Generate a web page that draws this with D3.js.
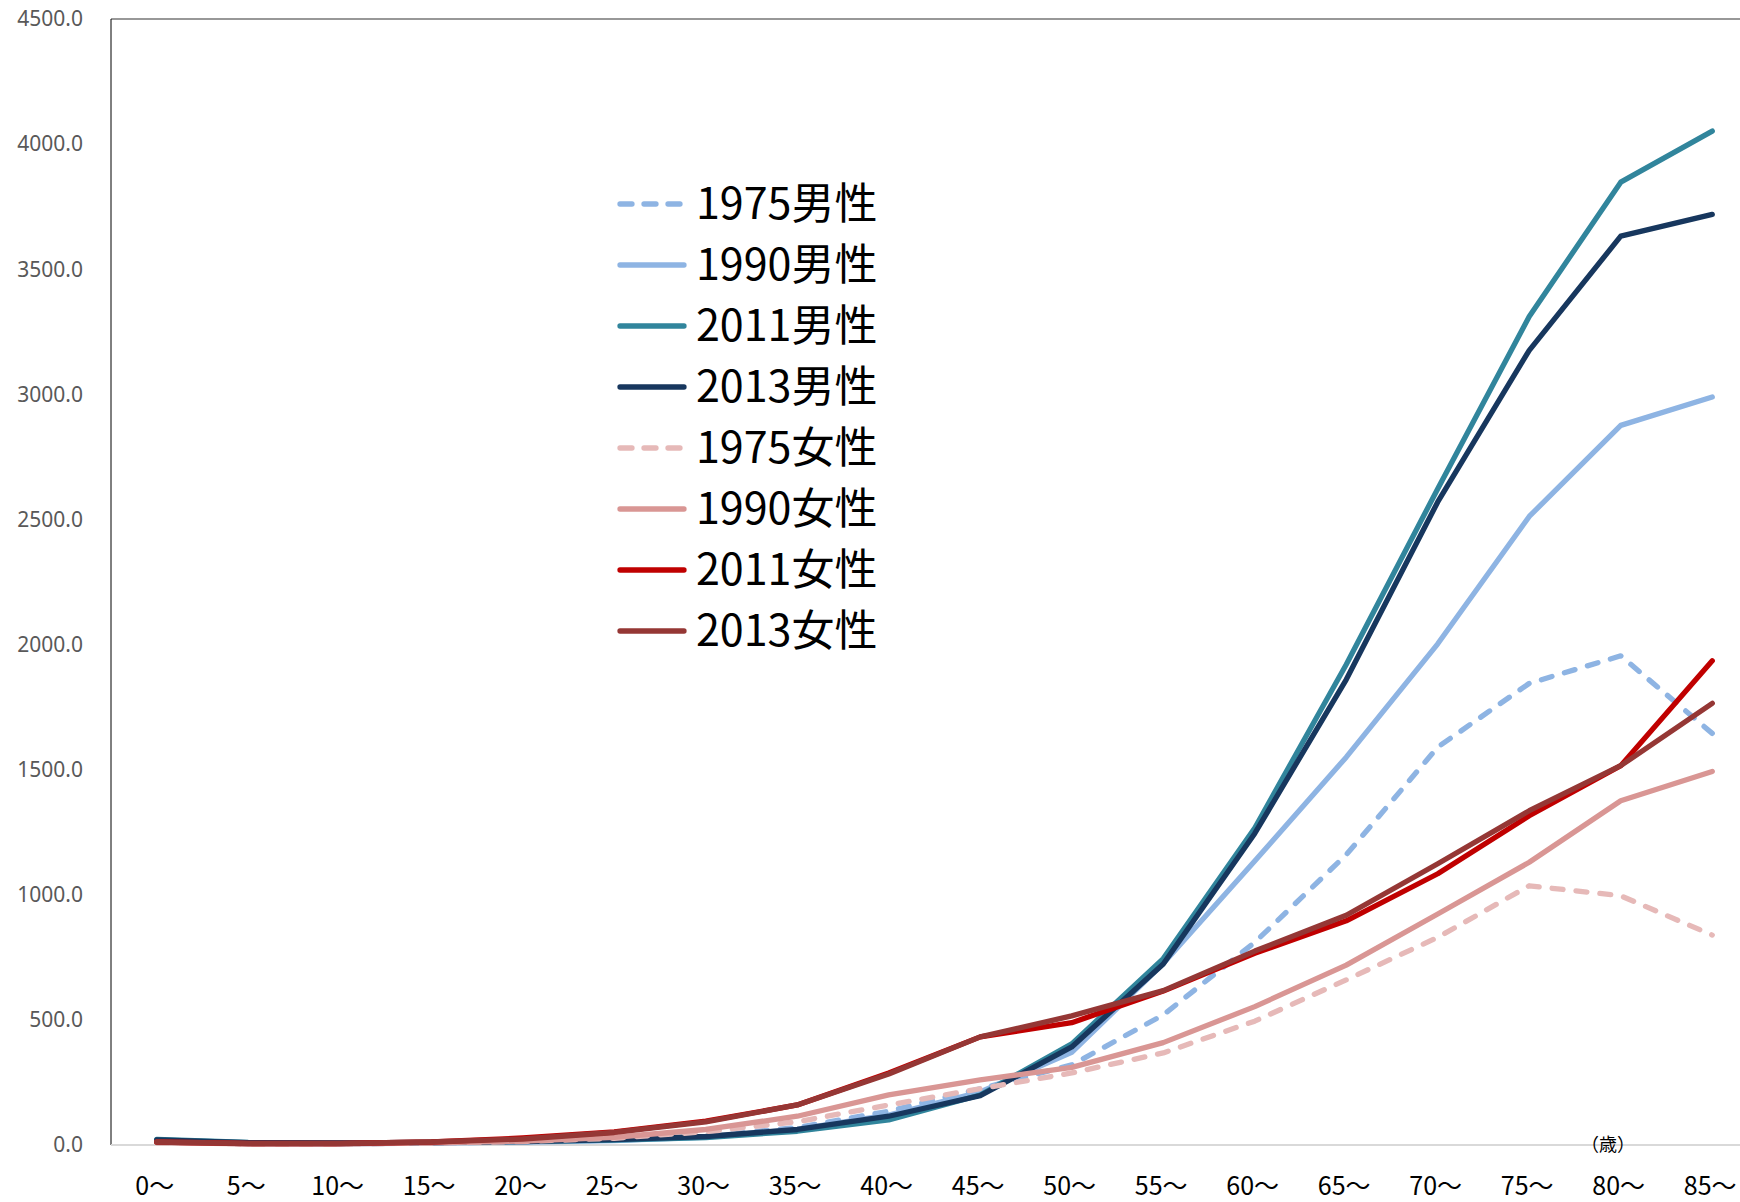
<!DOCTYPE html>
<html lang="ja">
<head>
<meta charset="utf-8">
<title>年齢階級別 罹患率</title>
<script src="https://cdn.jsdelivr.net/npm/d3@7"></script>
<style>
    body { margin: 0; background: #fff; }
    svg { display: block; }
    .y-tick { font-family: "Noto Sans", "DejaVu Sans", sans-serif; font-size: 21px; fill: #595959; }
    .x-tick { font-family: "Noto Sans CJK JP", sans-serif; font-size: 25px; fill: #000; }
    .legend text { font-family: "Noto Sans CJK JP", sans-serif; font-size: 43px; fill: #000; }
    .series { fill: none; stroke-width: 5.3; stroke-linecap: round; stroke-linejoin: round; }
</style>
</head>
<body>
<svg id="chart"></svg>
<script>
/* global d3 : false */

const ages = ["0～", "5～", "10～", "15～", "20～", "25～", "30～", "35～", "40～",
    "45～", "50～", "55～", "60～", "65～", "70～", "75～", "80～", "85～"];

const yTicks = [0, 500, 1000, 1500, 2000, 2500, 3000, 3500, 4000, 4500];

const male1975 = [12, 5, 5, 8, 12, 20, 35, 70, 135, 225, 320, 520, 810, 1160, 1590, 1845, 1955, 1645];
const male1990 = [14, 6, 5, 8, 12, 18, 32, 62, 120, 212, 370, 725, 1135, 1550, 2003, 2512, 2876, 2989];
const male2011 = [22, 10, 8, 10, 14, 20, 30, 55, 100, 200, 404, 745, 1267, 1920, 2623, 3311, 3848, 4052];
const male2013 = [20, 9, 8, 10, 14, 22, 34, 62, 115, 197, 392, 723, 1245, 1860, 2570, 3176, 3632, 3719];
const female1975 = [10, 4, 4, 8, 14, 27, 53, 93, 160, 225, 288, 368, 495, 660, 830, 1036, 996, 839];
const female1990 = [10, 5, 5, 9, 16, 31, 62, 115, 200, 260, 310, 409, 553, 719, 923, 1130, 1376, 1493];
const female2011 = [12, 6, 6, 12, 28, 52, 95, 160, 288, 432, 489, 615, 766, 896, 1084, 1316, 1516, 1935];
const female2013 = [12, 6, 6, 12, 24, 50, 92, 160, 284, 432, 516, 617, 775, 918, 1124, 1336, 1516, 1765];

const seriesNames = ["1975男性", "1990男性", "2011男性", "2013男性", "1975女性", "1990女性", "2011女性", "2013女性"];
const seriesValues = [male1975, male1990, male2011, male2013, female1975, female1990, female2011, female2013];
const seriesColors = ["#8eb4e3", "#8eb4e3", "#31859c", "#17375e", "#e6b9b8", "#d99694", "#c00000", "#953735"];
const seriesDashed = [true, false, false, false, true, false, false, false];

const width = 1740;
const height = 1202;
// plot area runs past the right edge of the picture, as in the original
const plot = { left: 111, top: 19, bottom: 1145, step: 91.5 };

const svg = d3.select("#chart")
    .attr("width", width)
    .attr("height", height);

const x = d3.scalePoint()
    .domain(ages)
    .range([plot.left, plot.left + plot.step * ages.length])
    .padding(0.5);

const y = d3.scaleLinear()
    .domain([0, 4500])
    .range([plot.bottom, plot.top]);

// frame
svg.append("line")
    .attr("x1", plot.left).attr("x2", width)
    .attr("y1", plot.top).attr("y2", plot.top)
    .attr("stroke", "#767676").attr("stroke-width", 1.5);
svg.append("line")
    .attr("x1", plot.left).attr("x2", plot.left)
    .attr("y1", plot.top).attr("y2", plot.bottom)
    .attr("stroke", "#000").attr("stroke-width", 1);

// y axis labels
svg.append("g")
    .selectAll("text")
    .data(yTicks)
    .join("text")
    .attr("class", "y-tick")
    .attr("x", 83)
    .attr("y", d => y(d))
    .attr("dy", "0.35em")
    .attr("text-anchor", "end")
    .text(d => d3.format(".1f")(d));

// x axis
svg.append("line")
    .attr("x1", plot.left).attr("x2", width)
    .attr("y1", plot.bottom).attr("y2", plot.bottom)
    .attr("stroke", "#d9d9d9").attr("stroke-width", 2);

svg.append("g")
    .selectAll("text")
    .data(ages)
    .join("text")
    .attr("class", "x-tick")
    .attr("x", d => x(d) - 2)
    .attr("y", 1195)
    .attr("text-anchor", "middle")
    .text(d => d);

svg.append("text")
    .attr("x", 1608)
    .attr("y", plot.bottom)
    .attr("dy", "0.35em")
    .attr("text-anchor", "middle")
    .style("font-family", "\"Noto Sans CJK JP\", sans-serif")
    .style("font-size", "18px")
    .text("（歳）");

// lines
const line = d3.line()
    .x((d, i) => x(ages[i]))
    .y(d => y(d));

svg.append("g")
    .selectAll("path")
    .data(seriesValues)
    .join("path")
    .attr("class", "series")
    .attr("stroke", (d, i) => seriesColors[i])
    .attr("stroke-dasharray", (d, i) => (seriesDashed[i] ? "11,13" : null))
    .attr("d", line);

// legend
const legend = svg.append("g")
    .attr("class", "legend")
    .selectAll("g")
    .data(seriesNames)
    .join("g")
    .attr("transform", (d, i) => `translate(618, ${204 + i * 61})`);

legend.append("line")
    .attr("class", "series")
    .attr("x1", 2).attr("x2", 66)
    .attr("stroke", (d, i) => seriesColors[i])
    .attr("stroke-dasharray", (d, i) => (seriesDashed[i] ? "12,12" : null));

legend.append("text")
    .attr("x", 78)
    .attr("dy", "0.36em")
    .text(d => d);
</script>
</body>
</html>
